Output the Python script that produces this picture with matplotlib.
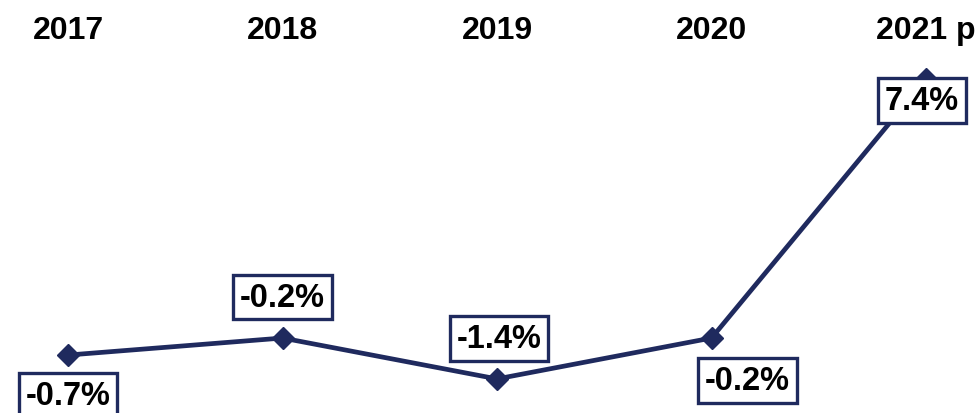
import matplotlib.pyplot as plt

years = ['2017', '2018', '2019', '2020', '2021 p']
growth = [-0.7, -0.2, -1.4, -0.2, 7.4]
labels = ['-0.7%', '-0.2%', '-1.4%', '-0.2%', '7.4%']
# label offsets in points (dx, dy) relative to each marker
offsets = [(0, -29), (0, 29.5), (1.5, 29), (26, -30.5), (-3, -15.5)]

navy = '#1f2a5e'
plt.rcParams['font.family'] = ['Liberation Sans', 'DejaVu Sans']

fig = plt.figure(figsize=(9.79, 4.14), dpi=100)
ax = fig.add_axes([0, 0, 1, 1])
x = list(range(len(years)))
ax.plot(x, growth, color=navy, lw=3.4, marker='D', markersize=11.5, zorder=2)

for i, (v, lab) in enumerate(zip(growth, labels)):
    dx, dy = offsets[i]
    ax.annotate(lab, (i, v), xytext=(dx, dy), textcoords='offset points',
                ha='center', va='center', fontsize=23.5, fontweight='bold',
                bbox=dict(boxstyle='square,pad=0.21', fc='white', ec=navy, lw=2.4),
                zorder=3)

for i, yr in enumerate(years):
    ax.text(i, 8.85, yr, ha='center', va='center', fontsize=23, fontweight='bold')

ax.set_xlim(-0.317, 4.247)
ax.set_ylim(-2.40, 9.747)
ax.axis('off')
fig.savefig('out.png', dpi=100)
